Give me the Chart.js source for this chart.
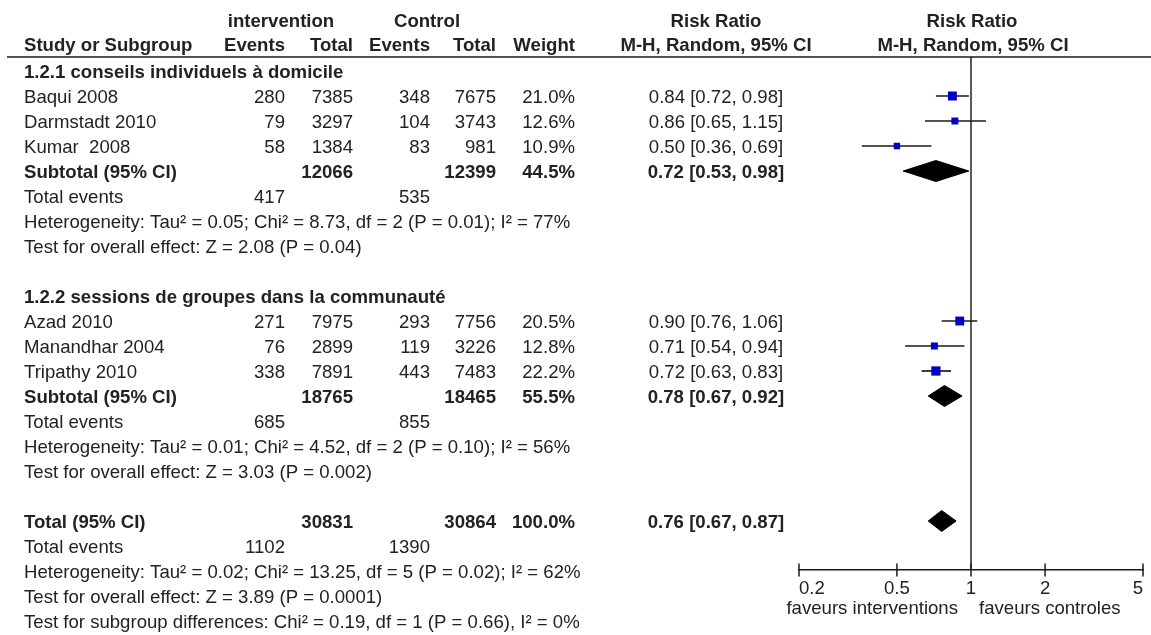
<!DOCTYPE html>
<html><head><meta charset="utf-8">
<script src="https://cdn.jsdelivr.net/npm/chart.js@4"></script>
<style>html,body{margin:0;padding:0;background:#fff;}#wrap{width:1151px;height:635px;}</style>
</head><body><div id="wrap"><canvas id="c" width="1151" height="635"></canvas></div>
<script>
// ---------- DATA ----------
const groupTitles = ['1.2.1 conseils individuels à domicile', '1.2.2 sessions de groupes dans la communauté'];
const studyNames = ['Baqui 2008', 'Darmstadt 2010', 'Kumar  2008', 'Azad 2010', 'Manandhar 2004', 'Tripathy 2010'];
const studyGroup = [0, 0, 0, 1, 1, 1];
const eventsInt = [280, 79, 58, 271, 76, 338];
const totalInt = [7385, 3297, 1384, 7975, 2899, 7891];
const eventsCtl = [348, 104, 83, 293, 119, 443];
const totalCtl = [7675, 3743, 981, 7756, 3226, 7483];
const weights = [21.0, 12.6, 10.9, 20.5, 12.8, 22.2];
const rr = [0.84, 0.86, 0.50, 0.90, 0.71, 0.72];
const rrLow = [0.72, 0.65, 0.36, 0.76, 0.54, 0.63];
const rrHigh = [0.98, 1.15, 0.69, 1.06, 0.94, 0.83];

// subgroup summaries (index 0,1) and overall (index 2)
const sumTotalInt = [12066, 18765, 30831];
const sumTotalCtl = [12399, 18465, 30864];
const sumWeight = [44.5, 55.5, 100.0];
const sumRR = [0.72, 0.78, 0.76];
const sumLow = [0.53, 0.67, 0.67];
const sumHigh = [0.98, 0.92, 0.87];
const sumEventsInt = [417, 685, 1102];
const sumEventsCtl = [535, 855, 1390];
const tau2 = ['0.05', '0.01', '0.02'];
const chi2 = ['8.73', '4.52', '13.25'];
const dfs = [2, 2, 5];
const pHet = ['0.01', '0.10', '0.02'];
const i2 = [77, 56, 62];
const zVal = ['2.08', '3.03', '3.89'];
const pZ = ['0.04', '0.002', '0.0001'];
const subgroupDiff = 'Test for subgroup differences: Chi² = 0.19, df = 1 (P = 0.66), I² = 0%';
const axisTicks = [0.2, 0.5, 1, 2, 5];
const axisMin = 0.2, axisMax = 5;
const favourLeft = 'faveurs interventions';
const favourRight = 'faveurs controles';

// ---------- LAYOUT / STYLE ----------
const FONT = '"Liberation Sans", Arial, Helvetica, sans-serif';
const FS = 18.6;
const TXT = '#222';
const ROW_H = 25, FIRST_ROW_Y = 71, AREA_TOP = 57, AREA_BOTTOM = 570, CANVAS_H = 635;
const yMin = (AREA_TOP - FIRST_ROW_Y) / ROW_H;
const yMax = (AREA_BOTTOM - FIRST_ROW_Y) / ROW_H;
const COL = {label: 24, evInt: 285, totInt: 353, evCtl: 430, totCtl: 496, weight: 575, rr: 716};
const DIAMOND_HALF = 0.42;

// ---------- ROW STRUCTURE ----------
const rows = [];
const studyRow = [], sumRow = [];
let r = 0;
for (let g = 0; g < groupTitles.length; g++) {
  rows.push({row: r++, type: 'group', g});
  studyNames.forEach((n, i) => { if (studyGroup[i] === g) { studyRow[i] = r; rows.push({row: r++, type: 'study', i}); } });
  sumRow[g] = r; rows.push({row: r++, type: 'subtotal', g});
  rows.push({row: r++, type: 'events', g});
  rows.push({row: r++, type: 'het', g});
  rows.push({row: r++, type: 'test', g});
  r++; // blank row
}
sumRow[2] = r; rows.push({row: r++, type: 'total', g: 2});
rows.push({row: r++, type: 'events', g: 2});
rows.push({row: r++, type: 'het', g: 2});
rows.push({row: r++, type: 'test', g: 2});
rows.push({row: r++, type: 'diff'});

const fmtRR = (e, l, h) => `${e.toFixed(2)} [${l.toFixed(2)}, ${h.toFixed(2)}]`;

// ---------- DATASETS ----------
const squareRadius = w => 1.96 * Math.sqrt(w) / Math.SQRT2;
const datasets = [];
datasets.push({
  type: 'scatter', order: 0,
  data: rr.map((v, i) => ({x: v, y: studyRow[i]})),
  pointStyle: 'rect', backgroundColor: '#0000c8', borderWidth: 0,
  pointRadius: weights.map(squareRadius),
  pointHoverRadius: weights.map(squareRadius)
});
rr.forEach((v, i) => datasets.push({
  type: 'line', order: 1,
  data: [{x: rrLow[i], y: studyRow[i]}, {x: rrHigh[i], y: studyRow[i]}],
  borderColor: '#1a1a1a', borderWidth: 1.7, pointRadius: 0, fill: false
}));
sumRR.forEach((v, k) => datasets.push({
  type: 'line', order: 1,
  data: [{x: sumLow[k], y: sumRow[k]}, {x: v, y: sumRow[k] - DIAMOND_HALF},
         {x: sumHigh[k], y: sumRow[k]}, {x: v, y: sumRow[k] + DIAMOND_HALF}, {x: sumLow[k], y: sumRow[k]}],
  borderColor: '#000', backgroundColor: '#000', borderWidth: 1, pointRadius: 0, fill: 'shape', tension: 0
}));
datasets.push({
  type: 'line', order: 2,
  data: [{x: 1, y: yMin}, {x: 1, y: yMax}],
  borderColor: '#5a5a5a', borderWidth: 2, pointRadius: 0, fill: false
});

// ---------- TABLE PLUGIN ----------
const tablePlugin = {
  id: 'forestTable',
  afterDraw(chart) {
    const ctx = chart.ctx, xs = chart.scales.x, ys = chart.scales.y;
    const yPix = v => ys.getPixelForValue(v) + 6.5;
    const txt = (s, x, y, align, bold) => {
      ctx.font = `${bold ? 'bold ' : ''}${FS}px ${FONT}`;
      ctx.textAlign = align; ctx.textBaseline = 'alphabetic'; ctx.fillStyle = TXT;
      ctx.fillText(s, x, y);
    };
    ctx.save();
    const x1 = xs.getPixelForValue(1);
    const h1 = 27, h2 = 51;
    txt('intervention', 281, h1, 'center', true);
    txt('Control', 427, h1, 'center', true);
    txt('Risk Ratio', COL.rr, h1, 'center', true);
    txt('Risk Ratio', x1 + 1, h1, 'center', true);
    txt('Study or Subgroup', COL.label, h2, 'left', true);
    txt('Events', COL.evInt, h2, 'right', true);
    txt('Total', COL.totInt, h2, 'right', true);
    txt('Events', COL.evCtl, h2, 'right', true);
    txt('Total', COL.totCtl, h2, 'right', true);
    txt('Weight', COL.weight, h2, 'right', true);
    txt('M-H, Random, 95% CI', COL.rr, h2, 'center', true);
    txt('M-H, Random, 95% CI', x1 + 2, h2, 'center', true);
    ctx.strokeStyle = '#1a1a1a'; ctx.lineWidth = 1.5;
    ctx.beginPath(); ctx.moveTo(7, chart.chartArea.top); ctx.lineTo(chart.width, chart.chartArea.top); ctx.stroke();

    rows.forEach(o => {
      const y = yPix(o.row);
      if (o.type === 'group') txt(groupTitles[o.g], COL.label, y, 'left', true);
      else if (o.type === 'study') {
        const i = o.i;
        txt(studyNames[i], COL.label, y, 'left', false);
        txt(String(eventsInt[i]), COL.evInt, y, 'right', false);
        txt(String(totalInt[i]), COL.totInt, y, 'right', false);
        txt(String(eventsCtl[i]), COL.evCtl, y, 'right', false);
        txt(String(totalCtl[i]), COL.totCtl, y, 'right', false);
        txt(weights[i].toFixed(1) + '%', COL.weight, y, 'right', false);
        txt(fmtRR(rr[i], rrLow[i], rrHigh[i]), COL.rr, y, 'center', false);
      } else if (o.type === 'subtotal' || o.type === 'total') {
        const k = o.g;
        txt(o.type === 'total' ? 'Total (95% CI)' : 'Subtotal (95% CI)', COL.label, y, 'left', true);
        txt(String(sumTotalInt[k]), COL.totInt, y, 'right', true);
        txt(String(sumTotalCtl[k]), COL.totCtl, y, 'right', true);
        txt(sumWeight[k].toFixed(1) + '%', COL.weight, y, 'right', true);
        txt(fmtRR(sumRR[k], sumLow[k], sumHigh[k]), COL.rr, y, 'center', true);
      } else if (o.type === 'events') {
        txt('Total events', COL.label, y, 'left', false);
        txt(String(sumEventsInt[o.g]), COL.evInt, y, 'right', false);
        txt(String(sumEventsCtl[o.g]), COL.evCtl, y, 'right', false);
      } else if (o.type === 'het') {
        const k = o.g;
        txt(`Heterogeneity: Tau² = ${tau2[k]}; Chi² = ${chi2[k]}, df = ${dfs[k]} (P = ${pHet[k]}); I² = ${i2[k]}%`, COL.label, y, 'left', false);
      } else if (o.type === 'test') {
        const k = o.g;
        txt(`Test for overall effect: Z = ${zVal[k]} (P = ${pZ[k]})`, COL.label, y, 'left', false);
      } else if (o.type === 'diff') {
        txt(subgroupDiff, COL.label, y, 'left', false);
      }
    });
    const ay = chart.chartArea.bottom;
    ctx.strokeStyle = '#1a1a1a'; ctx.lineWidth = 1.5;
    axisTicks.forEach(v => {
      const x = xs.getPixelForValue(v);
      ctx.beginPath(); ctx.moveTo(x, ay - 6.5); ctx.lineTo(x, ay + 6.5); ctx.stroke();
    });
    txt(favourLeft, x1 - 13, 614, 'right', false);
    txt(favourRight, x1 + 8, 614, 'left', false);
    ctx.restore();
  }
};

new Chart(document.getElementById('c'), {
  type: 'scatter',
  data: {datasets},
  plugins: [tablePlugin],
  options: {
    responsive: false, animation: false, events: [],
    layout: {padding: {left: 799, right: 8, top: AREA_TOP, bottom: 0}},
    plugins: {legend: {display: false}, tooltip: {enabled: false}},
    scales: {
      x: {
        type: 'logarithmic', min: axisMin, max: axisMax, position: 'bottom',
        afterBuildTicks: s => { s.ticks = axisTicks.map(v => ({value: v})); },
        afterFit: s => { s.height = CANVAS_H - AREA_BOTTOM; s.paddingLeft = 0; s.paddingRight = 0; },
        grid: {display: false, drawTicks: false},
        border: {display: true, color: '#1a1a1a', width: 1.5},
        ticks: {padding: 8, align: 'inner', color: TXT, font: {family: FONT, size: FS}, autoSkip: false, maxRotation: 0,
                callback: v => String(v)}
      },
      y: {type: 'linear', reverse: true, min: yMin, max: yMax, display: false}
    }
  }
});
</script>
</body></html>
